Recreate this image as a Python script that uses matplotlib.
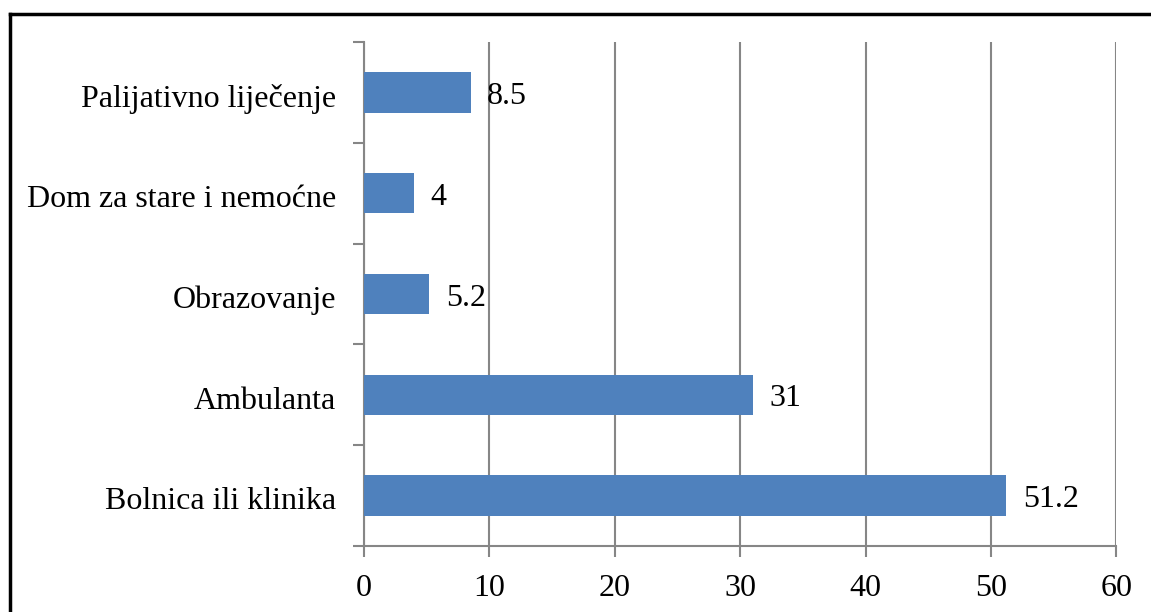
import matplotlib.pyplot as plt
import matplotlib.transforms as mtransforms
from matplotlib.lines import Line2D

# --- data ---
categories = ["Bolnica ili klinika", "Ambulanta", "Obrazovanje",
              "Dom za stare i nemoćne", "Palijativno liječenje"]
values = [51.2, 31, 5.2, 4, 8.5]
value_labels = ["51.2", "31", "5.2", "4", "8.5"]
x_ticks = [0, 10, 20, 30, 40, 50, 60]

plt.rcParams["font.family"] = ["Liberation Serif", "DejaVu Serif"]

fig = plt.figure(figsize=(11.51, 6.12), dpi=100)
ax = fig.add_axes([0.3162, 0.1078, 0.6538, 0.8236])

pos = list(range(len(categories)))
ax.barh(pos, values, height=0.4, color="#4f81bd", zorder=3)

for p, v, lab in zip(pos, values, value_labels):
    ax.annotate(lab, (v, p), xytext=(12, -3), textcoords="offset points",
                va="center", ha="left", fontsize=23)

ax.set_xlim(0, 60)
ax.set_ylim(-0.5, len(categories) - 0.5)
ax.set_xticks(x_ticks)
ax.set_xticklabels([str(t) for t in x_ticks], fontsize=23)
ax.xaxis.grid(True, color="#868686", linewidth=1.5, zorder=0)

# category labels at bar centres, tick marks at the boundaries
ax.set_yticks(pos)
ax.set_yticklabels(categories, fontsize=23)
ax.tick_params(axis="y", length=0, pad=20)
shift = mtransforms.ScaledTranslation(0, -2 / 72, fig.dpi_scale_trans)
for t in ax.get_yticklabels():
    t.set_transform(t.get_transform() + shift)
ax.set_yticks([p - 0.5 for p in range(len(categories) + 1)], minor=True)
ax.tick_params(axis="y", which="minor", length=8, width=1.5, color="#868686")
ax.tick_params(axis="x", length=8, width=1.5, color="#868686", pad=12)

for s in ["top", "right"]:
    ax.spines[s].set_visible(False)
for s in ["left", "bottom"]:
    ax.spines[s].set_color("#868686")
    ax.spines[s].set_linewidth(1.5)

# outer frame (only top and left edges visible in the crop)
fig.add_artist(Line2D([9.5 / 1151, 1.0], [1 - 13.5 / 612] * 2,
                      transform=fig.transFigure, color="black", linewidth=2.5))
fig.add_artist(Line2D([9.5 / 1151] * 2, [0.0, 1 - 13.5 / 612],
                      transform=fig.transFigure, color="black", linewidth=2.5))

fig.savefig("out.png", dpi=100)
